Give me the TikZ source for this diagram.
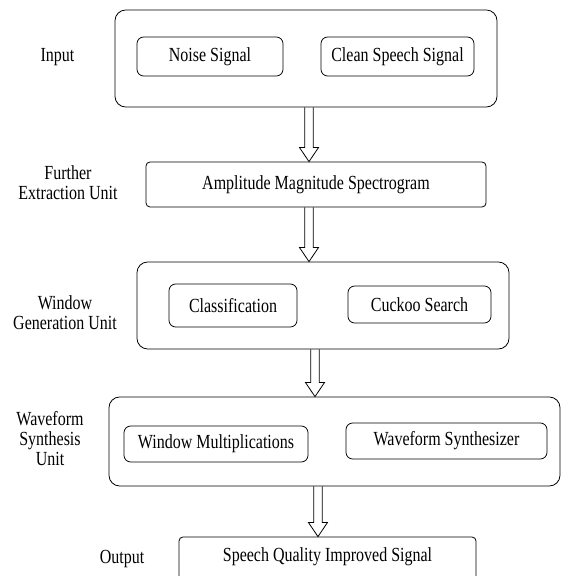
\documentclass[tikz,border=0pt]{standalone}
\usepackage{fontspec}
\setmainfont{Liberation Serif}[FakeStretch=0.8]
\usetikzlibrary{calc}

\begin{document}
\begin{tikzpicture}
	[
		x=0.75pt, y=0.75pt,
		font=\fontsize{15}{15}\selectfont,
		Size/.style 2 args={minimum width={#1*0.75pt}, minimum height={#2*0.75pt}},
		Flow/.style={draw=black, line width=0.6pt, line join=miter, to path={
			let \p1=(\tikztostart), \p2=(\tikztotarget) in
			(\x1-3.2pt,\y1) -- (\x1-3.2pt,\y2+10.5pt) -- (\x1-7.1pt,\y2+10.5pt) -- (\x1,\y2)
			-- (\x1+7.1pt,\y2+10.5pt) -- (\x1+3.2pt,\y2+10.5pt) -- (\x1+3.2pt,\y1)}}
	]
	\tikzstyle{Outer} = [rectangle, rounded corners=8pt, draw=black, line width=0.6pt, inner sep=0pt]
	\tikzstyle{Inner} = [rectangle, rounded corners=5pt, draw=black, line width=0.6pt, inner sep=0pt, text centered]
	\tikzstyle{Flat} = [rectangle, rounded corners=3pt, draw=black, line width=0.6pt, inner sep=0pt, text centered]
	\tikzstyle{Label} = [align=center, inner sep=0pt]
	\useasboundingbox (0,0) rectangle (562,576);
	\clip (0,0) rectangle (562,576);

	% stages
	\node [Outer, Size={382}{97}] (inp) at (306,517.5) {};
	\node [Inner, Size={146}{39}] (noise) at (210,519.5) {Noise Signal};
	\node [Inner, Size={153}{39}] (clean) at (397.5,519.5) {Clean Speech Signal};

	\node [Flat, Size={340}{45}] (amp) at (316,391.5) {Amplitude Magnitude Spectrogram};

	\node [Outer, Size={372}{87}] (win) at (323,270.5) {};
	\node [Inner, Size={128}{43}] (cls) at (233,270.5) {Classification};
	\node [Inner, Size={143}{37}] (cko) at (419.5,271.5) {Cuckoo Search};

	\node [Outer, Size={451}{89}] (wav) at (334.5,134.5) {};
	\node [Inner, Size={184}{36}] (mul) at (216,132) {Window Multiplications};
	\node [Inner, Size={201}{36}] (syn) at (446.5,135) {Waveform Synthesizer};

	\node [Flat, Size={297}{45}] (out) at (327.5,16.5) {};
	\node [Label] (outtxt) at (327.5,19) {Speech Quality Improved Signal};

	% labels on the left
	\node [Label] (linp) at (57.5,519) {Input};
	\node [Label] (lamp) at (68,393) {Further\\Extraction Unit};
	\node [Label] (lwin) at (65,263) {Window\\Generation Unit};
	\node [Label] (lwav) at (50,137) {Waveform\\Synthesis\\Unit};
	\node [Label] (lout) at (122,17) {Output};

	% arrows
	\draw [Flow] ([xshift=2.25pt]inp.south) to ([xshift=2.25pt]inp.south |- amp.north);
	\draw [Flow] ([xshift=-5.25pt]amp.south) to ([xshift=-5.25pt]amp.south |- win.north);
	\draw [Flow] ([xshift=-6pt]win.south) to ([xshift=-6pt]win.south |- wav.north);
	\draw [Flow] ([xshift=-12.4pt]wav.south) to ([xshift=-12.4pt]wav.south |- out.north);
\end{tikzpicture}
\end{document}
